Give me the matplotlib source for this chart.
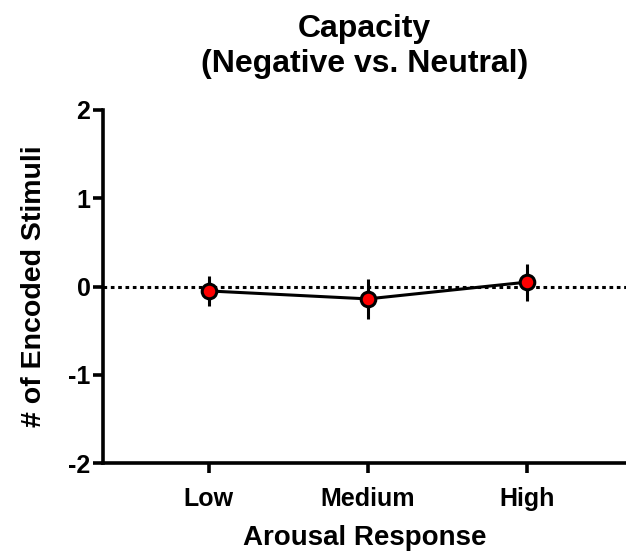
import numpy as np
import matplotlib.pyplot as plt

plt.rcParams['font.family'] = ['Liberation Sans', 'DejaVu Sans']
plt.rcParams['font.weight'] = 'bold'

categories = ['Low', 'Medium', 'High']
means = [-0.05, -0.14, 0.05]
errors = [0.17, 0.23, 0.21]

x = np.arange(1, len(categories) + 1)

fig = plt.figure(figsize=(6.26, 5.58), dpi=100)
ax = fig.add_axes([0.1645, 0.170, 0.835, 0.633])

ax.axhline(0, color='black', linestyle=(0, (1.2, 1.2)), linewidth=2.2, zorder=1)
ax.errorbar(x, means, yerr=errors, color='black', linewidth=2.2,
            elinewidth=2.2, capsize=0, marker='o', markersize=10.5,
            markerfacecolor='red', markeredgecolor='black',
            markeredgewidth=2.2, zorder=3)

ax.set_xlim(0.335, 3.62)
ax.set_ylim(-2, 2)
ax.set_yticks([-2, -1, 0, 1, 2])
ax.set_yticklabels(['-2', '-1', '0', '1', '2'])
ax.set_xticks(x)
ax.set_xticklabels(categories)

for s in ['top', 'right']:
    ax.spines[s].set_visible(False)
for s in ['left', 'bottom']:
    ax.spines[s].set_linewidth(2.6)
ax.tick_params(width=2.6, length=7, labelsize=18)
ax.tick_params(axis='x', pad=10)
ax.tick_params(axis='y', pad=2)
for lab in ax.get_xticklabels() + ax.get_yticklabels():
    lab.set_fontweight('bold')

ax.set_xlabel('Arousal Response', fontsize=20, fontweight='bold', labelpad=10)
ax.set_ylabel('# of Encoded Stimuli', fontsize=20.5, fontweight='bold', labelpad=15)
ax.set_title('Capacity\n(Negative vs. Neutral)', fontsize=23, fontweight='bold',
             pad=27, linespacing=1.25)

fig.savefig('out.png', dpi=100)
